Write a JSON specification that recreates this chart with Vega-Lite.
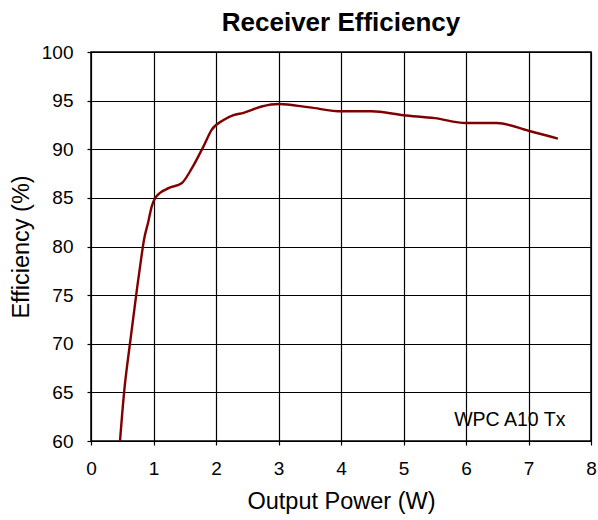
{
  "$schema": "https://vega.github.io/schema/vega-lite/v6.json",
  "autosize": "none",
  "width": 500,
  "height": 389,
  "padding": {"left": 91, "top": 52, "right": 7, "bottom": 79},
  "background": "white",
  "title": {"text": "Receiver Efficiency", "font": "Liberation Sans", "fontSize": 26, "fontWeight": "bold", "color": "black", "anchor": "middle", "offset": 7},
  "config": {
    "view": {"stroke": "black", "strokeWidth": 1.5},
    "axis": {
      "gridColor": "black", "gridOpacity": 1, "gridWidth": 1.2,
      "domainColor": "black", "tickColor": "black", "tickSize": 4, "tickWidth": 1.2,
      "labelFont": "Liberation Sans", "labelFontSize": 19, "labelColor": "black",
      "titleFont": "Liberation Sans", "titleFontSize": 23.5, "titleFontWeight": "normal", "titleColor": "black"
    }
  },
  "data": {"values": [
    {"p": 0.464, "e": 60.0},
    {"p": 0.528, "e": 64.9},
    {"p": 0.624, "e": 70.05},
    {"p": 0.741, "e": 75.9},
    {"p": 0.795, "e": 78.4},
    {"p": 0.848, "e": 80.7},
    {"p": 0.917, "e": 82.55},
    {"p": 0.971, "e": 84.1},
    {"p": 1.04, "e": 85.1},
    {"p": 1.24, "e": 86.0},
    {"p": 1.45, "e": 86.5},
    {"p": 1.61, "e": 88.0},
    {"p": 1.80, "e": 90.3},
    {"p": 1.93, "e": 92.0},
    {"p": 2.12, "e": 93.0},
    {"p": 2.28, "e": 93.5},
    {"p": 2.44, "e": 93.75},
    {"p": 2.73, "e": 94.4},
    {"p": 3.01, "e": 94.65},
    {"p": 3.50, "e": 94.3},
    {"p": 4.01, "e": 93.9},
    {"p": 4.49, "e": 93.9},
    {"p": 5.0, "e": 93.5},
    {"p": 5.5, "e": 93.2},
    {"p": 6.0, "e": 92.7},
    {"p": 6.49, "e": 92.7},
    {"p": 7.0, "e": 91.9},
    {"p": 7.47, "e": 91.1}
  ]},
  "encoding": {
    "x": {"field": "p", "type": "quantitative", "scale": {"domain": [0, 8], "nice": false}, "axis": {"title": "Output Power (W)", "values": [0,1,2,3,4,5,6,7,8], "labelOverlap": false, "labelFlush": false, "labelBound": false, "labelPadding": 14, "titlePadding": 11, "domain": false}},
    "y": {"field": "e", "type": "quantitative", "scale": {"domain": [60, 100], "nice": false, "zero": false}, "axis": {"title": "Efficiency (%)", "values": [60,65,70,75,80,85,90,95,100], "labelOverlap": false, "labelFlush": false, "labelBound": false, "labelPadding": 14, "titlePadding": 8, "domain": false}}
  },
  "layer": [
    {
      "mark": {"type": "line", "color": "#800000", "strokeWidth": 2.4, "interpolate": "monotone", "clip": true}
    },
    {
      "data": {"values": [{"p": 6.7, "e": 62.2, "label": "WPC A10 Tx"}]},
      "mark": {"type": "text", "font": "Liberation Sans", "fontSize": 19.5, "color": "black", "align": "center", "baseline": "middle"},
      "encoding": {
        "text": {"field": "label"}
      }
    }
  ]
}
